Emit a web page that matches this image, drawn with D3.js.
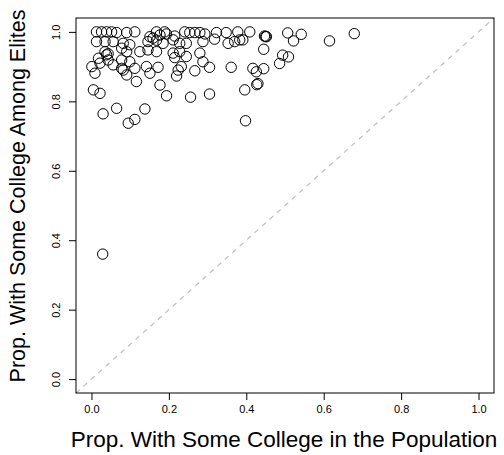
<!DOCTYPE html>
<html>
<head>
<meta charset="utf-8">
<script src="https://cdn.jsdelivr.net/npm/d3@7"></script>
<style>
  html, body { margin: 0; padding: 0; background: #fff; }
  svg { display: block; }
  text { font-family: "Liberation Sans", Arial, Helvetica, sans-serif; fill: #000; }
</style>
</head>
<body>
<svg id="chart" width="504" height="455"></svg>
<script>
// Share of each unit's general population with some college education
const popShare = [
  0.013, 0.026, 0.039, 0.052, 0.065, 0.091, 0.112, 0.151, 0.168, 0.189,
  0.194, 0.215, 0.241, 0.254, 0.267, 0.280, 0.293, 0.323, 0.348, 0.378,
  0.409, 0.013, 0.035, 0.056, 0.082, 0.099, 0.146, 0.159, 0.177, 0.185,
  0.211, 0.228, 0.245, 0.288, 0.318, 0.353, 0.370, 0.383, 0.035, 0.039,
  0.078, 0.091, 0.125, 0.146, 0.168, 0.211, 0.228, 0.245, 0.280, 0.018,
  0.043, 0.078, 0.099, 0.215, 0.288, 0.001, 0.009, 0.022, 0.056, 0.078,
  0.082, 0.112, 0.142, 0.151, 0.172, 0.224, 0.232, 0.267, 0.305, 0.361,
  0.417, 0.091, 0.220, 0.116, 0.177, 0.005, 0.022, 0.194, 0.256, 0.305,
  0.396, 0.030, 0.065, 0.095, 0.112, 0.138, 0.398, 0.447, 0.450, 0.452,
  0.445, 0.507, 0.522, 0.494, 0.509, 0.486, 0.426, 0.445, 0.430, 0.427,
  0.542, 0.615, 0.679, 0.391, 0.043, 0.168, 0.029
];
// Share of each unit's elites with some college education
const eliteShare = [
  1.000, 1.000, 1.000, 1.000, 0.998, 0.998, 1.000, 0.986, 1.000, 1.000,
  0.994, 0.988, 1.000, 0.998, 0.998, 0.998, 0.994, 0.998, 0.998, 1.000,
  1.000, 0.972, 0.972, 0.972, 0.967, 0.963, 0.972, 0.982, 0.991, 0.967,
  0.977, 0.967, 0.967, 0.972, 0.979, 0.967, 0.972, 0.977, 0.943, 0.934,
  0.953, 0.943, 0.943, 0.948, 0.943, 0.939, 0.943, 0.929, 0.939, 0.924,
  0.919, 0.919, 0.914, 0.926, 0.914, 0.900, 0.881, 0.910, 0.905, 0.895,
  0.890, 0.895, 0.900, 0.881, 0.898, 0.890, 0.900, 0.888, 0.898, 0.898,
  0.895, 0.876, 0.873, 0.857, 0.847, 0.833, 0.823, 0.816, 0.812, 0.821,
  0.833, 0.764, 0.780, 0.737, 0.748, 0.778, 0.744, 0.988, 0.987, 0.986,
  0.950, 0.997, 0.974, 0.933, 0.928, 0.909, 0.885, 0.894, 0.851, 0.848,
  0.993, 0.974, 0.995, 0.977, 0.937, 0.976, 0.360
];
const xTicks = [0, 0.2, 0.4, 0.6, 0.8, 1.0];
const yTicks = [0, 0.2, 0.4, 0.6, 0.8, 1.0];
const xTitle = "Prop. With Some College in the Population";
const yTitle = "Prop. With Some College Among Elites";

const points = popShare.map((x, i) => ({ x, y: eliteShare[i] }));

const svg = d3.select("#chart");
const box = { left: 76, right: 494, top: 18, bottom: 393 };

// Both axes span [0, 1] padded by 4% on each side
const x = d3.scaleLinear().domain([-0.04, 1.04]).range([box.left, box.right]);
const y = d3.scaleLinear().domain([-0.04, 1.04]).range([box.bottom, box.top]);

const fmt = d3.format(".1f");

// Reference line y = x
svg.append("line")
  .attr("x1", x(-0.04)).attr("y1", y(-0.04))
  .attr("x2", x(1.04)).attr("y2", y(1.04))
  .attr("stroke", "#bebebe")
  .attr("stroke-width", 1.2)
  .attr("stroke-dasharray", "5,5");

// Bottom axis
const xAxis = svg.append("g")
  .attr("transform", `translate(0,${box.bottom})`)
  .call(d3.axisBottom(x).tickValues(xTicks).tickFormat(fmt).tickSize(7).tickSizeOuter(0).tickPadding(5));
xAxis.select(".domain").remove();
xAxis.selectAll(".tick line").attr("stroke", "#000");
xAxis.selectAll(".tick text")
  .style("font-family", '"Liberation Sans", Arial, sans-serif')
  .style("font-size", "11px").attr("fill", "#000");

// Left axis, labels turned to run along the axis
const yAxis = svg.append("g")
  .attr("transform", `translate(${box.left},0)`)
  .call(d3.axisLeft(y).tickValues(yTicks).tickFormat(fmt).tickSize(7).tickSizeOuter(0));
yAxis.select(".domain").remove();
yAxis.selectAll(".tick line").attr("stroke", "#000");
yAxis.selectAll(".tick text")
  .style("font-family", '"Liberation Sans", Arial, sans-serif')
  .style("font-size", "11px").attr("fill", "#000")
  .attr("x", null).attr("dy", null)
  .attr("text-anchor", "middle")
  .attr("transform", "translate(-16,0) rotate(-90)");

// Plot frame
svg.append("rect")
  .attr("x", box.left).attr("y", box.top)
  .attr("width", box.right - box.left).attr("height", box.bottom - box.top)
  .attr("fill", "none").attr("stroke", "#000").attr("stroke-width", 1);

// Points as open circles
svg.append("g")
  .selectAll("circle")
  .data(points)
  .join("circle")
  .attr("cx", d => x(d.x))
  .attr("cy", d => y(d.y))
  .attr("r", 5.2)
  .attr("fill", "none")
  .attr("stroke", "#000")
  .attr("stroke-width", 1);

// Axis titles
svg.append("text")
  .attr("x", 284)
  .attr("y", 447)
  .attr("text-anchor", "middle")
  .style("font-size", "22.5px")
  .text(xTitle);

svg.append("text")
  .attr("transform", "translate(25,196) rotate(-90)")
  .attr("text-anchor", "middle")
  .style("font-size", "21.5px")
  .text(yTitle);
</script>
</body>
</html>
